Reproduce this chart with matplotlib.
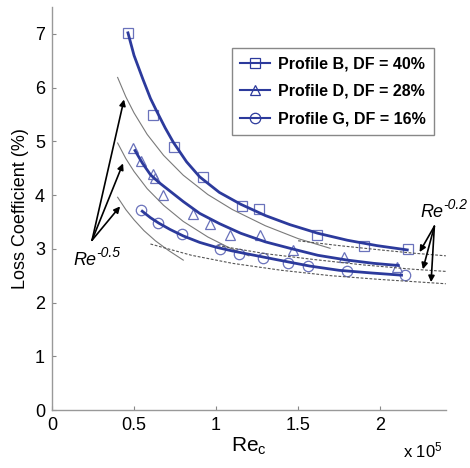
import matplotlib
matplotlib.use("Agg")
import matplotlib.pyplot as plt

plt.rcParams['font.family'] = ['Liberation Sans', 'DejaVu Sans']
plt.rcParams['mathtext.fontset'] = 'custom'
plt.rcParams['mathtext.rm'] = 'Liberation Sans'
plt.rcParams['mathtext.it'] = 'Liberation Sans:italic'

# %% measured points (Re_c in units of 1e5, loss coefficient in %)
b_re = [0.463, 0.616, 0.744, 0.92, 1.159, 1.262, 1.616, 1.90, 2.17]
b_loss = [7.02, 5.50, 4.89, 4.33, 3.79, 3.74, 3.25, 3.05, 2.99]

d_re = [0.494, 0.543, 0.616, 0.628, 0.677, 0.86, 0.963, 1.085, 1.268, 1.47, 1.78, 2.10]
d_loss = [4.87, 4.63, 4.40, 4.31, 4.01, 3.64, 3.46, 3.25, 3.25, 2.97, 2.84, 2.66]

g_re = [0.543, 0.646, 0.793, 1.024, 1.14, 1.287, 1.44, 1.56, 1.80, 2.15]
g_loss = [3.72, 3.49, 3.27, 2.99, 2.90, 2.83, 2.73, 2.68, 2.58, 2.51]

# %% fitted curves
b_fit_re = [0.463, 0.50, 0.555, 0.60, 0.64, 0.69, 0.74, 0.82, 0.90, 1.02, 1.15, 1.30, 1.45, 1.62, 1.80, 1.98, 2.165]
b_fit_loss = [7.02, 6.60, 6.15, 5.80, 5.55, 5.25, 4.98, 4.62, 4.34, 4.05, 3.83, 3.62, 3.45, 3.29, 3.16, 3.06, 2.98]

d_fit_re = [0.506, 0.55, 0.60, 0.65, 0.70, 0.80, 0.90, 1.02, 1.15, 1.30, 1.45, 1.62, 1.80, 1.96, 2.11]
d_fit_loss = [4.83, 4.60, 4.38, 4.24, 4.12, 3.88, 3.66, 3.47, 3.29, 3.13, 3.01, 2.88, 2.79, 2.73, 2.69]

g_fit_re = [0.55, 0.60, 0.65, 0.72, 0.80, 0.90, 1.00, 1.10, 1.25, 1.40, 1.57, 1.75, 1.95, 2.13]
g_fit_loss = [3.70, 3.58, 3.48, 3.36, 3.24, 3.12, 3.03, 2.96, 2.87, 2.78, 2.68, 2.60, 2.55, 2.51]

# %% Re^-0.5 guide lines (thin grey)
g05_top_re = [0.40, 0.45, 0.50, 0.58, 0.68, 0.80, 0.95, 1.10, 1.30, 1.50, 1.695]
g05_top_loss = [6.19, 5.83, 5.53, 5.13, 4.74, 4.37, 4.01, 3.73, 3.43, 3.19, 3.01]
g05_mid_re = [0.40, 0.45, 0.50, 0.58, 0.68, 0.80, 0.95, 1.08, 1.20]
g05_mid_loss = [4.97, 4.68, 4.44, 4.12, 3.81, 3.51, 3.22, 3.02, 2.87]
g05_low_re = [0.40, 0.45, 0.50, 0.56, 0.63, 0.71, 0.80]
g05_low_loss = [3.96, 3.73, 3.54, 3.34, 3.15, 2.97, 2.79]

# %% Re^-0.2 guide lines (dashed)
g02_top_re = [1.50, 1.75, 2.00, 2.20, 2.40]
g02_top_loss = [3.15, 3.06, 2.98, 2.92, 2.87]
g02_mid_re = [1.01, 1.30, 1.60, 1.90, 2.20, 2.40]
g02_mid_loss = [3.06, 2.91, 2.80, 2.70, 2.62, 2.58]
g02_low_re = [0.60, 0.85, 1.10, 1.40, 1.70, 2.00, 2.40]
g02_low_loss = [3.09, 2.88, 2.73, 2.60, 2.50, 2.43, 2.35]

labels = ['Profile B, DF = 40%', 'Profile D, DF = 28%', 'Profile G, DF = 16%']

line_c = '#2c3a9c'
mark_c = '#6a72bb'
grey = '#7a7a7a'

fig = plt.figure(figsize=(4.70, 4.68), dpi=100)
ax = fig.add_axes([0.1106, 0.1239, 0.838, 0.861])

mk = dict(linestyle='none', markersize=7.5, markerfacecolor='none',
          markeredgecolor=mark_c, markeredgewidth=0.9)
ax.plot(b_re, b_loss, marker='s', **mk)
ax.plot(d_re, d_loss, marker='^', **mk)
ax.plot(g_re, g_loss, marker='o', **mk)

for xs, ys in [(g05_top_re, g05_top_loss), (g05_mid_re, g05_mid_loss), (g05_low_re, g05_low_loss)]:
    ax.plot(xs, ys, color=grey, lw=0.8)
for xs, ys in [(g02_top_re, g02_top_loss), (g02_mid_re, g02_mid_loss), (g02_low_re, g02_low_loss)]:
    ax.plot(xs, ys, color='#555555', lw=0.8, dashes=(2.5, 1.5))

ax.plot(b_fit_re, b_fit_loss, color=line_c, lw=2)
ax.plot(d_fit_re, d_fit_loss, color=line_c, lw=2)
ax.plot(g_fit_re, g_fit_loss, color=line_c, lw=2)

# legend handles
handles = []
for m in ['s', '^', 'o']:
    h, = ax.plot([], [], color=line_c, lw=1.5, marker=m, markersize=7.5,
                 markerfacecolor='none', markeredgecolor=line_c, markeredgewidth=0.9)
    handles.append(h)
leg = ax.legend(handles, labels, loc='upper left', bbox_to_anchor=(0.4936, 0.897),
                bbox_transform=fig.transFigure, fancybox=False, framealpha=1,
                edgecolor='#888888', prop={'weight': 'bold', 'size': 11.5},
                handlelength=1.9, handletextpad=0.5, borderpad=0.5,
                labelspacing=0.8, borderaxespad=0)
leg.get_frame().set_linewidth(1.0)

# arrows and labels
arr = dict(arrowstyle='-|>', color='black', lw=1.2, mutation_scale=9, shrinkA=0, shrinkB=0)
for hx, hy in [(0.439, 5.78), (0.433, 4.59), (0.415, 3.79)]:
    ax.annotate('', xy=(hx, hy), xytext=(0.244, 3.16), arrowprops=arr)
for hx, hy in [(2.24, 2.94), (2.26, 2.62), (2.31, 2.38)]:
    ax.annotate('', xy=(hx, hy), xytext=(2.33, 3.42), arrowprops=arr)
for tx, ty, sup in [(0.128, 2.70, '-0.5'), (2.244, 3.59, '-0.2')]:
    ax.text(tx, ty, 'Re', fontsize=13, style='italic', ha='left', va='baseline')
    ax.annotate(sup, xy=(tx, ty), xytext=(16.5, 5.5), textcoords='offset points',
                fontsize=10, style='italic', ha='left', va='baseline')

ax.set_xlim(0, 2.4)
ax.set_ylim(0, 7.5)
ax.set_xticks([0, 0.5, 1, 1.5, 2])
ax.set_xticklabels(['0', '0.5', '1', '1.5', '2'])
ax.set_yticks(range(8))
ax.tick_params(direction='in', length=3, width=0.8, color='#888888', labelsize=13, pad=5)
for s in ['top', 'right']:
    ax.spines[s].set_visible(False)
for s in ['left', 'bottom']:
    ax.spines[s].set_color('#999999')
    ax.spines[s].set_linewidth(1.0)

ax.set_ylabel('Loss Coefficient (%)', fontsize=13, labelpad=4)
ax.set_xlabel('Re$_\\mathrm{c}$', fontsize=15, labelpad=1)
fig.text(0.857, 0.022, 'x 10$^\\mathrm{5}$', fontsize=12)

fig.savefig('out.png', dpi=100)
